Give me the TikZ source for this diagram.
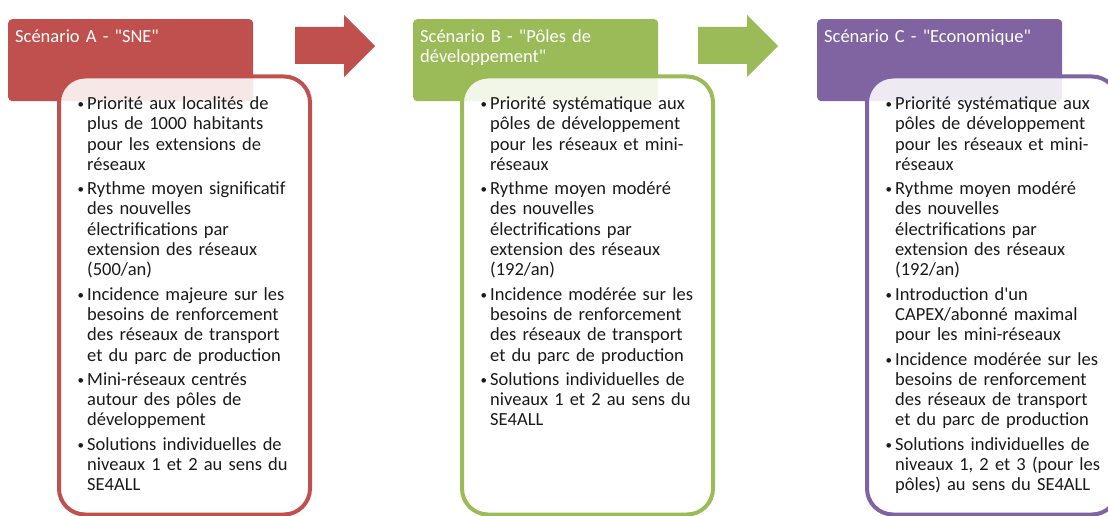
\documentclass[tikz,border=0pt]{standalone}
\usepackage{fontspec}
\setmainfont{Carlito}[Ligatures=TeXOff]
\definecolor{scenA}{HTML}{C0504D}
\definecolor{scenB}{HTML}{9BBB59}
\definecolor{scenC}{HTML}{8064A2}
\definecolor{bodytext}{HTML}{1A1A1A}
% one bulleted item; lines are broken by hand with \newline
\newcommand{\bitem}[1]{\par\hangindent=10pt\hangafter=1\noindent
  \rule{0pt}{15pt}\makebox[10pt][l]{\hspace{0.5pt}\raisebox{1pt}{\fontsize{13}{13}\selectfont\textbullet}}#1}
\begin{document}
\begin{tikzpicture}[x=1pt,y=-1pt,
  header/.style={fill=#1, rounded corners=4pt, minimum width=245pt,
    minimum height=82pt, inner sep=0pt, anchor=north west},
  title/.style={text=white, anchor=north west, inner sep=0pt, align=left,
    text width=232pt, font=\fontsize{18.5}{20.3}\selectfont},
  card/.style={draw=#1, line width=4pt, fill=white, fill opacity=0.87,
    rounded corners=26pt, minimum width=251pt, minimum height=438pt,
    inner sep=0pt, anchor=north west},
  bullets/.style={text=bodytext, anchor=north west, inner sep=0pt, align=left,
    text width=225pt, font=\fontsize{18.5}{20.3}\selectfont},
  flow/.style={fill=#1}
]
\useasboundingbox (0,0) rectangle (1108,516);

% headers
\node[header=scenA] (hA) at (8,19) {};
\node[header=scenB] (hB) at (413,19) {};
\node[header=scenC] (hC) at (817,19) {};

% block arrows between the scenarios
\path[flow=scenA] (295,27) -- (344,27) -- (344,15) -- (375,46) -- (344,77)
  -- (344,64) -- (295,64) -- cycle;
\path[flow=scenB] (698,27) -- (747,27) -- (747,15) -- (778,46) -- (747,77)
  -- (747,64) -- (698,64) -- cycle;

% cards
\node[card=scenA] (cA) at (57,74.5) {};
\node[card=scenB] (cB) at (460,74.5) {};
\node[card=scenC] (cC) at (865,74.5) {};

% header titles
\node[title] (tA) at (15,27) {\rule{0pt}{15pt}Scénario A - "SNE"};
\node[title] (tB) at (420,27) {\rule{0pt}{15pt}Scénario B - "Pôles de\newline développement"};
\node[title] (tC) at (824,27) {\rule{0pt}{15pt}Scénario C - "Economique"};

% card contents
\node[bullets] (lA) at (77,85) {\parskip=4pt
\bitem{Priorité aux localités de\newline plus de 1000 habitants\newline pour les extensions de\newline réseaux}
\bitem{Rythme moyen significatif\newline des nouvelles\newline électrifications par\newline extension des réseaux\newline (500/an)}
\bitem{Incidence majeure sur les\newline besoins de renforcement\newline des réseaux de transport\newline et du parc de production}
\bitem{Mini-réseaux centrés\newline autour des pôles de\newline développement}
\bitem{Solutions individuelles de\newline niveaux 1 et 2 au sens du\newline SE4ALL}\par};

\node[bullets] (lB) at (480,85) {\parskip=4pt
\bitem{Priorité systématique aux\newline pôles de développement\newline pour les réseaux et mini-\newline réseaux}
\bitem{Rythme moyen modéré\newline des nouvelles\newline électrifications par\newline extension des réseaux\newline (192/an)}
\bitem{Incidence modérée sur les\newline besoins de renforcement\newline des réseaux de transport\newline et du parc de production}
\bitem{Solutions individuelles de\newline niveaux 1 et 2 au sens du\newline SE4ALL}\par};

\node[bullets] (lC) at (885,85) {\parskip=4pt
\bitem{Priorité systématique aux\newline pôles de développement\newline pour les réseaux et mini-\newline réseaux}
\bitem{Rythme moyen modéré\newline des nouvelles\newline électrifications par\newline extension des réseaux\newline (192/an)}
\bitem{Introduction d'un\newline CAPEX/abonné maximal\newline pour les mini-réseaux}
\bitem{Incidence modérée sur les\newline besoins de renforcement\newline des réseaux de transport\newline et du parc de production}
\bitem{Solutions individuelles de\newline niveaux 1, 2 et 3 (pour les\newline pôles) au sens du SE4ALL}\par};
\end{tikzpicture}
\end{document}
